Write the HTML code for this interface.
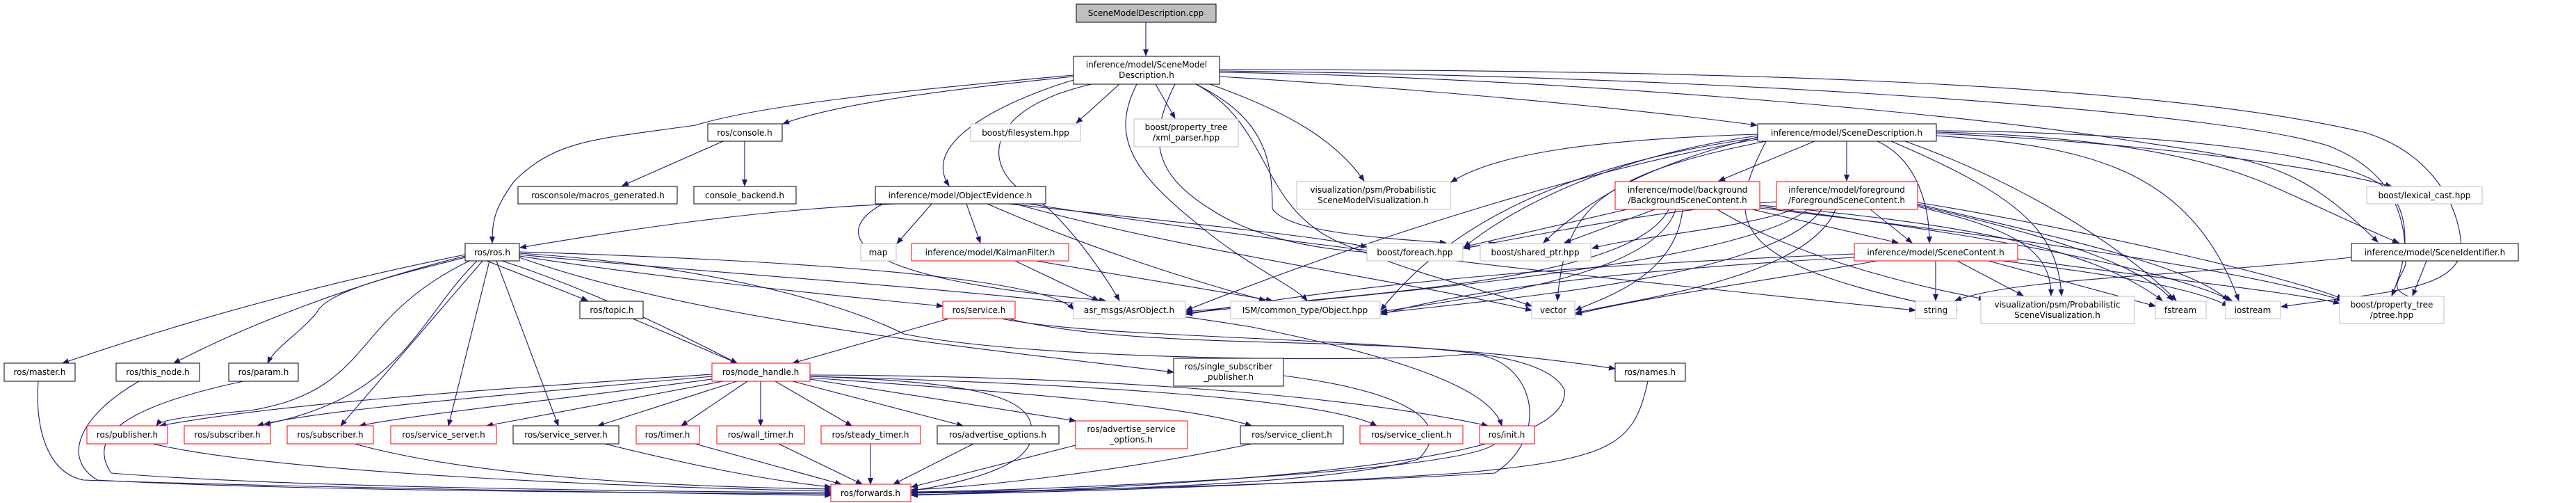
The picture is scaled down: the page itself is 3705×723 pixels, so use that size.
<!DOCTYPE html>
<html><head><meta charset="utf-8"><style>
html,body{margin:0;padding:0;background:#fff;}
svg{display:block;}
text{font-family:"DejaVu Sans","Liberation Sans",sans-serif;font-size:12px;fill:#000;}
.e{fill:none;stroke:#191970;stroke-width:1.1;marker-end:url(#a);}
.b{fill:#fff;stroke:#000;stroke-width:1;}
.r{fill:#fff;stroke:#ff0000;stroke-width:1;}
.g{fill:#fff;stroke:#bfbfbf;stroke-width:1;}
</style></head><body>
<svg width="3705" height="723" viewBox="0 0 3705 723" xmlns="http://www.w3.org/2000/svg">
<defs><marker id="a" markerWidth="10" markerHeight="8" refX="9" refY="4" orient="auto" markerUnits="userSpaceOnUse"><path d="M0,0 L10,4 L0,8 z" fill="#191970"/></marker></defs>

<g>
<path class="e" d="M1648,32 L1648,80"/>
<path class="e" d="M1544,108 C1300,130 1100,150 1000,180 C860,200 800,200 740,260 C710,300 708,320 708,349"/>
<path class="e" d="M1544,110 C1350,130 1200,150 1126,178"/>
<path class="e" d="M1040,203 L895,267"/>
<path class="e" d="M1071,203 L1071,267"/>
<path class="e" d="M1610,121 L1548,177"/>
<path class="e" d="M1662,121 L1690,170"/>
<path class="e" d="M1544,115 C1460,140 1320,200 1365,267"/>
<path class="e" d="M1740,121 C1850,160 1920,200 1962,260"/>
<path class="e" d="M1720,121 C1820,170 1830,230 1830,300 C1850,330 1950,340 2080,349"/>
<path class="e" d="M1690,121 C1650,200 1660,250 1740,300 C1830,360 2000,380 2150,349"/>
<path class="e" d="M1635,121 C1600,190 1620,240 1720,320 C1790,380 1860,410 1880,432"/>
<path class="e" d="M1570,121 C1400,160 1420,250 1480,280 C1520,300 1580,380 1610,432"/>
<path class="e" d="M1720,121 C1830,180 1810,300 1930,350 C2050,400 2150,420 2203,440"/>
<path class="e" d="M1754,110 C2000,125 2300,150 2527,180"/>
<path class="e" d="M1754,104 C2200,110 2800,160 3050,200 C3250,230 3300,230 3420,348"/>
<path class="e" d="M1754,102 C2500,110 3200,160 3350,210 C3450,250 3460,320 3460,380 C3450,410 3420,420 3515,440"/>
<path class="e" d="M1754,100 C2500,100 3100,120 3400,190 C3500,220 3540,300 3540,360 C3530,420 3420,420 3281,441"/>
<path class="e" d="M2610,203 L2472,260"/>
<path class="e" d="M2656,203 L2656,260"/>
<path class="e" d="M2700,203 C2760,230 2775,300 2775,349"/>
<path class="e" d="M2720,203 C2900,280 2960,330 2965,425"/>
<path class="e" d="M2740,203 C2900,260 3050,350 3130,432"/>
<path class="e" d="M2785,195 C3000,210 3150,240 3220,432"/>
<path class="e" d="M2785,192 C3000,200 3300,230 3440,268"/>
<path class="e" d="M2785,190 C3000,195 3150,220 3250,260 C3300,280 3380,320 3450,349"/>
<path class="e" d="M2785,188 C3100,190 3400,220 3440,280 C3470,320 3460,380 3440,425"/>
<path class="e" d="M2528,195 C2350,220 2200,280 2106,355"/>
<path class="e" d="M2528,197 C2400,230 2300,270 2220,349"/>
<path class="e" d="M2528,198 C2300,230 2100,300 1986,446"/>
<path class="e" d="M2528,200 C2300,240 2000,330 1706,446"/>
<path class="e" d="M2528,193 C2300,200 2150,220 2087,262"/>
<path class="e" d="M2540,203 C2300,250 2250,300 2240,432"/>
<path class="e" d="M2540,203 C2480,320 2480,380 2815,446"/>
<path class="e" d="M2340,301 L2105,355"/>
<path class="e" d="M2380,301 L2250,349"/>
<path class="e" d="M2520,301 L2730,349"/>
<path class="e" d="M2400,301 C2350,400 2000,420 1706,448"/>
<path class="e" d="M2410,301 C2380,400 2100,430 1986,448"/>
<path class="e" d="M2420,301 C2410,400 2300,430 2266,446"/>
<path class="e" d="M2470,301 C2600,380 2800,420 2855,430"/>
<path class="e" d="M2531,295 C2800,320 3000,350 3110,432"/>
<path class="e" d="M2531,297 C2800,330 3100,380 3210,432"/>
<path class="e" d="M2531,299 C2800,330 3200,380 3370,432"/>
<path class="e" d="M2555,290 C2400,300 2250,330 2105,357"/>
<path class="e" d="M2580,301 C2500,330 2350,340 2290,357"/>
<path class="e" d="M2690,301 L2750,349"/>
<path class="e" d="M2600,301 C2500,380 2000,420 1706,450"/>
<path class="e" d="M2620,301 C2550,400 2150,430 1986,450"/>
<path class="e" d="M2640,301 C2600,400 2350,430 2266,450"/>
<path class="e" d="M2758,297 C2900,330 2950,360 2950,425"/>
<path class="e" d="M2758,295 C2950,340 3080,380 3125,432"/>
<path class="e" d="M2758,293 C2950,340 3150,380 3205,432"/>
<path class="e" d="M2758,291 C3000,330 3300,400 3370,430"/>
<path class="e" d="M2784,375 L2784,432"/>
<path class="e" d="M2815,375 L2910,425"/>
<path class="e" d="M2860,375 L3100,440"/>
<path class="e" d="M2880,375 C3000,390 3150,410 3205,440"/>
<path class="e" d="M2902,372 C3100,400 3300,420 3365,436"/>
<path class="e" d="M2667,365 C2300,380 2000,400 1706,452"/>
<path class="e" d="M2667,370 C2300,390 2100,420 1986,452"/>
<path class="e" d="M2700,375 C2500,410 2350,430 2266,452"/>
<path class="e" d="M3382,370 C3100,400 2900,400 2812,432"/>
<path class="e" d="M3490,375 L3470,425"/>
<path class="e" d="M1290,293 C1100,300 900,330 748,356"/>
<path class="e" d="M1340,293 L1290,350"/>
<path class="e" d="M1390,293 L1410,349"/>
<path class="e" d="M1450,293 C1700,320 1900,340 1966,355"/>
<path class="e" d="M1420,293 C1550,350 1700,400 1820,432"/>
<path class="e" d="M1460,293 C1700,360 2000,400 2203,446"/>
<path class="e" d="M1480,293 C1900,360 2500,420 2755,446"/>
<path class="e" d="M1270,293 C1200,330 1200,400 1590,432"/>
<path class="e" d="M1460,375 L1580,432"/>
<path class="e" d="M1490,375 L1830,432"/>
<path class="e" d="M669,366 C500,400 300,450 90,522"/>
<path class="e" d="M669,368 C500,410 350,470 250,522"/>
<path class="e" d="M669,370 C550,400 470,420 455,450 C430,480 395,500 385,522"/>
<path class="e" d="M700,375 L845,432"/>
<path class="e" d="M722,375 C800,400 900,440 1060,522"/>
<path class="e" d="M675,375 C500,460 540,560 360,590 C250,600 230,605 225,612"/>
<path class="e" d="M686,375 C600,460 580,570 380,610"/>
<path class="e" d="M694,375 L490,612"/>
<path class="e" d="M704,375 L645,612"/>
<path class="e" d="M714,375 L803,612"/>
<path class="e" d="M747,368 C950,400 1250,430 1356,440"/>
<path class="e" d="M747,370 C1000,460 1400,500 1688,535"/>
<path class="e" d="M747,366 C1100,400 1500,420 1800,470 C2100,530 2150,580 2160,612"/>
<path class="e" d="M747,364 C1000,380 1200,430 1300,480 C1500,520 2000,520 2100,510 C2200,500 2240,620 2150,680 C1800,700 1500,705 1311,708"/>
<path class="e" d="M747,362 C1000,370 1500,390 1544,445"/>
<path class="e" d="M910,458 L1060,522"/>
<path class="e" d="M1365,458 L1140,522"/>
<path class="e" d="M1440,458 C1600,490 2000,480 2323,530"/>
<path class="e" d="M1450,458 C1700,520 2200,460 2250,560 C2260,640 2000,690 1311,712"/>
<path class="e" d="M1024,538 C700,560 400,580 230,612"/>
<path class="e" d="M1024,541 C700,570 450,590 370,612"/>
<path class="e" d="M1024,545 C800,575 600,595 517,612"/>
<path class="e" d="M1040,548 L700,612"/>
<path class="e" d="M1060,548 L860,612"/>
<path class="e" d="M1075,548 L980,612"/>
<path class="e" d="M1094,548 L1094,612"/>
<path class="e" d="M1115,548 L1225,612"/>
<path class="e" d="M1140,548 L1385,612"/>
<path class="e" d="M1165,545 L1547,605"/>
<path class="e" d="M1165,543 C1400,560 1700,580 1800,612"/>
<path class="e" d="M1165,541 C1500,550 1900,570 1980,612"/>
<path class="e" d="M1165,539 C1500,540 1900,560 2140,612"/>
<path class="e" d="M1165,541 C1450,550 1500,580 1480,640 C1460,680 1350,700 1311,705"/>
<path class="e" d="M55,548 C50,620 70,680 120,690 C400,700 900,708 1195,712"/>
<path class="e" d="M200,548 C110,600 90,660 140,690 C400,705 900,708 1195,710"/>
<path class="e" d="M350,548 C200,580 120,620 160,680 C400,700 900,706 1195,708"/>
<path class="e" d="M220,638 C400,680 900,700 1195,706"/>
<path class="e" d="M510,638 C700,690 1000,700 1195,703"/>
<path class="e" d="M870,638 C1000,670 1100,690 1195,700"/>
<path class="e" d="M1000,638 L1210,696"/>
<path class="e" d="M1120,638 L1240,696"/>
<path class="e" d="M1252,638 L1252,696"/>
<path class="e" d="M1400,638 L1285,696"/>
<path class="e" d="M1547,640 L1311,700"/>
<path class="e" d="M1800,638 C1600,680 1400,700 1311,704"/>
<path class="e" d="M2150,638 C2100,680 1500,705 1311,707"/>
<path class="e" d="M1846,540 C2000,560 2100,600 2040,660 C1900,700 1500,706 1311,709"/>
<path class="e" d="M2370,548 C2350,640 2320,660 2100,680 C1800,700 1500,708 1311,711"/>
</g>

<g>
<rect x="1548" y="6" width="201" height="26" fill="#bfbfbf" stroke="#000"/><text x="1648" y="23" text-anchor="middle">SceneModelDescription.cpp</text>
<rect class="b" x="1544" y="81" width="210" height="40"/><text x="1649" y="97" text-anchor="middle">inference/model/SceneModel</text><text x="1649" y="112" text-anchor="middle">Description.h</text>
<rect class="b" x="1018" y="178" width="107" height="25"/><text x="1071" y="195" text-anchor="middle">ros/console.h</text>
<rect class="b" x="745" y="268" width="229" height="25"/><text x="860" y="285" text-anchor="middle">rosconsole/macros_generated.h</text>
<rect class="b" x="998" y="268" width="147" height="25"/><text x="1071" y="285" text-anchor="middle">console_backend.h</text>
<rect class="b" x="669" y="350" width="78" height="25"/><text x="708" y="367" text-anchor="middle">ros/ros.h</text>
<rect class="b" x="834" y="433" width="91" height="25"/><text x="880" y="450" text-anchor="middle">ros/topic.h</text>
<rect class="b" x="6" y="522" width="102" height="26"/><text x="57" y="539" text-anchor="middle">ros/master.h</text>
<rect class="b" x="167" y="522" width="120" height="26"/><text x="227" y="539" text-anchor="middle">ros/this_node.h</text>
<rect class="b" x="329" y="522" width="100" height="26"/><text x="379" y="539" text-anchor="middle">ros/param.h</text>
<rect class="r" x="1024" y="522" width="141" height="26"/><text x="1094" y="539" text-anchor="middle">ros/node_handle.h</text>
<rect class="r" x="125" y="612" width="116" height="26"/><text x="183" y="629" text-anchor="middle">ros/publisher.h</text>
<rect class="r" x="265" y="612" width="124" height="26"/><text x="327" y="629" text-anchor="middle">ros/subscriber.h</text>
<rect class="r" x="413" y="612" width="124" height="26"/><text x="475" y="629" text-anchor="middle">ros/subscriber.h</text>
<rect class="r" x="562" y="612" width="152" height="26"/><text x="638" y="629" text-anchor="middle">ros/service_server.h</text>
<rect class="b" x="738" y="612" width="152" height="26"/><text x="814" y="629" text-anchor="middle">ros/service_server.h</text>
<rect class="r" x="915" y="612" width="91" height="26"/><text x="960" y="629" text-anchor="middle">ros/timer.h</text>
<rect class="r" x="1031" y="612" width="126" height="26"/><text x="1094" y="629" text-anchor="middle">ros/wall_timer.h</text>
<rect class="r" x="1181" y="612" width="143" height="26"/><text x="1252" y="629" text-anchor="middle">ros/steady_timer.h</text>
<rect class="b" x="1348" y="612" width="175" height="26"/><text x="1435" y="629" text-anchor="middle">ros/advertise_options.h</text>
<rect class="r" x="1547" y="605" width="161" height="40"/><text x="1627" y="621" text-anchor="middle">ros/advertise_service</text><text x="1627" y="636" text-anchor="middle">_options.h</text>
<rect class="b" x="1784" y="612" width="148" height="26"/><text x="1858" y="629" text-anchor="middle">ros/service_client.h</text>
<rect class="r" x="1956" y="612" width="148" height="26"/><text x="2030" y="629" text-anchor="middle">ros/service_client.h</text>
<rect class="r" x="2128" y="612" width="79" height="26"/><text x="2167" y="629" text-anchor="middle">ros/init.h</text>
<rect class="r" x="1195" y="696" width="115" height="25"/><text x="1252" y="713" text-anchor="middle">ros/forwards.h</text>
<rect class="b" x="1259" y="268" width="245" height="25"/><text x="1381" y="285" text-anchor="middle">inference/model/ObjectEvidence.h</text>
<rect class="g" x="1396" y="178" width="158" height="25"/><text x="1475" y="195" text-anchor="middle">boost/filesystem.hpp</text>
<rect class="g" x="1631" y="171" width="150" height="40"/><text x="1706" y="187" text-anchor="middle">boost/property_tree</text><text x="1706" y="202" text-anchor="middle">/xml_parser.hpp</text>
<rect class="b" x="2528" y="178" width="257" height="25"/><text x="2656" y="195" text-anchor="middle">inference/model/SceneDescription.h</text>
<rect class="g" x="1865" y="261" width="221" height="40"/><text x="1975" y="277" text-anchor="middle">visualization/psm/Probabilistic</text><text x="1975" y="292" text-anchor="middle">SceneModelVisualization.h</text>
<rect class="r" x="2323" y="261" width="208" height="40"/><text x="2427" y="277" text-anchor="middle">inference/model/background</text><text x="2427" y="292" text-anchor="middle">/BackgroundSceneContent.h</text>
<rect class="r" x="2555" y="261" width="203" height="40"/><text x="2656" y="277" text-anchor="middle">inference/model/foreground</text><text x="2656" y="292" text-anchor="middle">/ForegroundSceneContent.h</text>
<rect class="g" x="3404" y="268" width="166" height="25"/><text x="3487" y="285" text-anchor="middle">boost/lexical_cast.hpp</text>
<rect class="g" x="1238" y="350" width="51" height="25"/><text x="1263" y="367" text-anchor="middle">map</text>
<rect class="r" x="1311" y="350" width="226" height="25"/><text x="1424" y="367" text-anchor="middle">inference/model/KalmanFilter.h</text>
<rect class="g" x="1966" y="350" width="138" height="25"/><text x="2035" y="367" text-anchor="middle">boost/foreach.hpp</text>
<rect class="g" x="2129" y="350" width="159" height="25"/><text x="2208" y="367" text-anchor="middle">boost/shared_ptr.hpp</text>
<rect class="r" x="2667" y="350" width="235" height="25"/><text x="2784" y="367" text-anchor="middle">inference/model/SceneContent.h</text>
<rect class="b" x="3382" y="350" width="240" height="25"/><text x="3502" y="367" text-anchor="middle">inference/model/SceneIdentifier.h</text>
<rect class="r" x="1356" y="433" width="104" height="25"/><text x="1408" y="450" text-anchor="middle">ros/service.h</text>
<rect class="g" x="1544" y="433" width="161" height="25"/><text x="1624" y="450" text-anchor="middle">asr_msgs/AsrObject.h</text>
<rect class="g" x="1770" y="433" width="215" height="25"/><text x="1877" y="450" text-anchor="middle">ISM/common_type/Object.hpp</text>
<rect class="g" x="2203" y="433" width="62" height="25"/><text x="2234" y="450" text-anchor="middle">vector</text>
<rect class="g" x="2755" y="433" width="59" height="25"/><text x="2784" y="450" text-anchor="middle">string</text>
<rect class="g" x="2849" y="426" width="221" height="39"/><text x="2959" y="442" text-anchor="middle">visualization/psm/Probabilistic</text><text x="2959" y="457" text-anchor="middle">SceneVisualization.h</text>
<rect class="g" x="3100" y="433" width="73" height="25"/><text x="3136" y="450" text-anchor="middle">fstream</text>
<rect class="g" x="3201" y="433" width="79" height="25"/><text x="3240" y="450" text-anchor="middle">iostream</text>
<rect class="g" x="3365" y="426" width="150" height="39"/><text x="3440" y="442" text-anchor="middle">boost/property_tree</text><text x="3440" y="457" text-anchor="middle">/ptree.hpp</text>
<rect class="b" x="1688" y="515" width="158" height="40"/><text x="1767" y="531" text-anchor="middle">ros/single_subscriber</text><text x="1767" y="546" text-anchor="middle">_publisher.h</text>
<rect class="b" x="2323" y="522" width="101" height="26"/><text x="2373" y="539" text-anchor="middle">ros/names.h</text>
</g>
</svg>
</body></html>
